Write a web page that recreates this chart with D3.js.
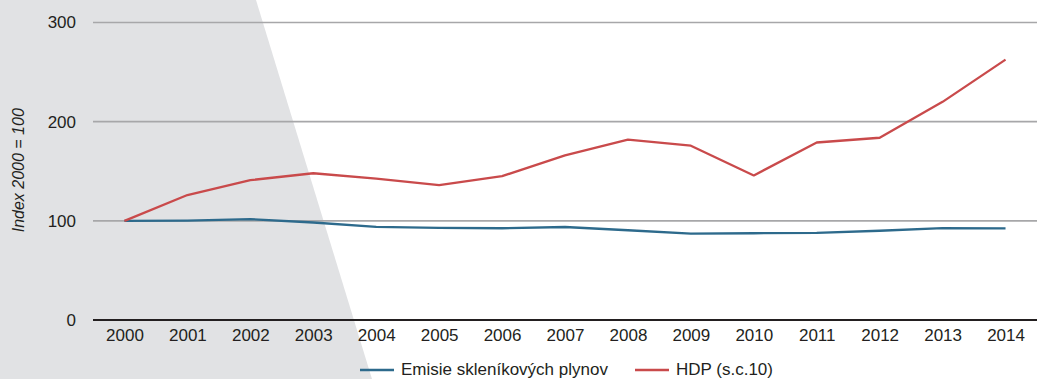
<!DOCTYPE html>
<html>
<head>
<meta charset="utf-8">
<script src="https://cdn.jsdelivr.net/npm/d3@7"></script>
<style>
  html, body { margin: 0; padding: 0; background: #ffffff; }
  svg { display: block; }
  text { font-family: "Liberation Sans", Arial, sans-serif; fill: #231f20; }
</style>
</head>
<body>
<svg id="chart" width="1037" height="379"></svg>
<script>
// Years on the x axis
const years = ["2000","2001","2002","2003","2004","2005","2006","2007","2008","2009","2010","2011","2012","2013","2014"];
// Greenhouse gas emissions, index 2000 = 100
const emisie = [100, 100.2, 101.7, 98.3, 94, 93, 92.5, 93.8, 90.5, 87, 87.5, 87.8, 90, 92.6, 92.3];
// GDP (constant prices 2010), index 2000 = 100
const hdp = [100, 126, 141, 148, 142.5, 136, 145, 166, 181.8, 175.8, 145.8, 179, 183.8, 220, 262.6];
// Y axis ticks
const yTicks = [0, 100, 200, 300];
const seriesNames = ["Emisie skleníkových plynov", "HDP (s.c.10)"];
const seriesColors = ["#2d6a8c", "#c94a4b"];

const svg = d3.select("#chart");
const W = 1037, H = 379;
const plotLeft = 93, plotRight = 1037, plotTop = 22.5, plotBottom = 320;
const fontSize = 17;

// Decorative grey wedge in the background
svg.append("path")
  .attr("d", `M0,0 L256,0 L372,${H} L0,${H} Z`)
  .attr("fill", "#e1e2e4");

const x = d3.scalePoint().domain(years).range([plotLeft, plotRight]).padding(0.5);
const y = d3.scaleLinear().domain([0, 300]).range([plotBottom, plotTop]);

// Horizontal gridlines
svg.append("g")
  .selectAll("line")
  .data(yTicks.filter(d => d > 0))
  .join("line")
  .attr("x1", plotLeft).attr("x2", plotRight)
  .attr("y1", d => y(d)).attr("y2", d => y(d))
  .attr("stroke", "#a7a7a9").attr("stroke-width", 1.6);

// Y tick labels
svg.append("g")
  .selectAll("text")
  .data(yTicks)
  .join("text")
  .attr("x", 76)
  .attr("y", d => y(d))
  .attr("dy", "0.35em")
  .attr("text-anchor", "end")
  .attr("font-size", fontSize)
  .text(d => d);

// Baseline
svg.append("line")
  .attr("x1", plotLeft).attr("x2", plotRight)
  .attr("y1", y(0)).attr("y2", y(0))
  .attr("stroke", "#231f20").attr("stroke-width", 2.2);

// X axis labels
const xAxis = d3.axisBottom(x).tickSize(0).tickPadding(9);
const gx = svg.append("g").attr("transform", `translate(0,${y(0)})`).call(xAxis);
gx.select(".domain").remove();
gx.selectAll("text")
  .attr("font-size", fontSize)
  .attr("font-family", "'Liberation Sans', Arial, sans-serif")
  .attr("fill", "#231f20");

// Y axis title
svg.append("text")
  .attr("transform", `translate(24,${(plotTop + plotBottom) / 2 - 1}) rotate(-90)`)
  .attr("text-anchor", "middle")
  .attr("font-size", 16)
  .attr("font-style", "italic")
  .text("Index 2000 = 100");

// Lines
const line = d3.line()
  .x((d, i) => x(years[i]))
  .y(d => y(d));

[emisie, hdp].forEach((vals, k) => {
  svg.append("path")
    .datum(vals)
    .attr("d", line)
    .attr("fill", "none")
    .attr("stroke", seriesColors[k])
    .attr("stroke-width", 2.3)
    .attr("stroke-linejoin", "round");
});

// Legend
const legendX = [360, 635];
seriesNames.forEach((name, k) => {
  const g = svg.append("g").attr("transform", `translate(${legendX[k]},370)`);
  g.append("line")
    .attr("x1", 0).attr("x2", 34)
    .attr("stroke", seriesColors[k]).attr("stroke-width", 2.5);
  g.append("text")
    .attr("x", 41)
    .attr("dy", "0.32em")
    .attr("font-size", fontSize)
    .text(name);
});
</script>
</body>
</html>
